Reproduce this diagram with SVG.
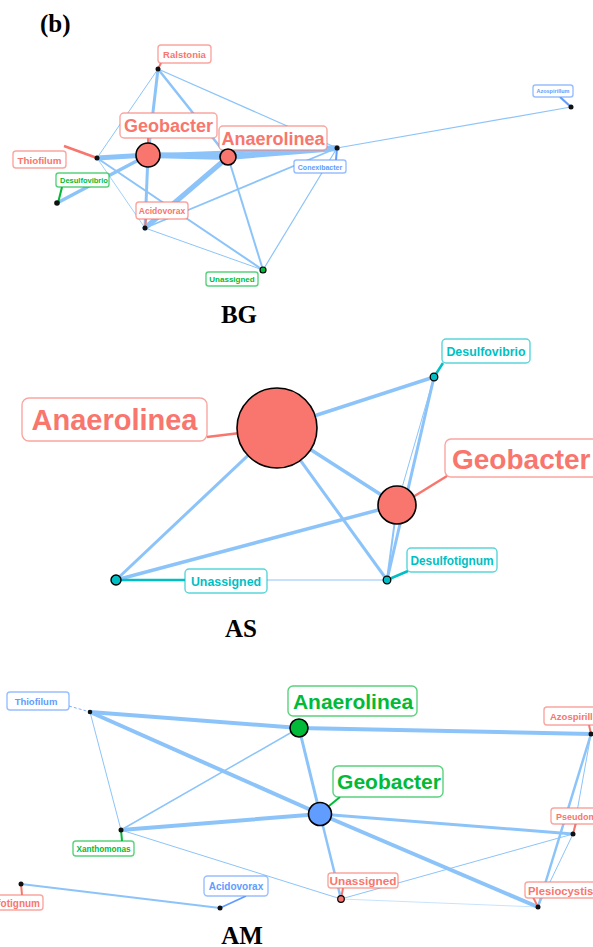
<svg xmlns="http://www.w3.org/2000/svg" width="593" height="947" viewBox="0 0 593 947">
<style>
.e{stroke:#8CC4FA;stroke-linecap:round;fill:none}
.lb{fill:#fff;stroke-width:1.4}
.t{font-family:"Liberation Sans",Arial,sans-serif;font-weight:bold}
.r{fill:#F8766D}.rs{stroke:#F8766D}
.g{fill:#00BA38}.gs{stroke:#00BA38}
.b{fill:#619CFF}.bs{stroke:#619CFF}
.c{fill:#00BFC4}.cs{stroke:#00BFC4}
.box{stroke-opacity:0.65}
.ttl{font-family:"Liberation Serif","Times New Roman",serif;font-weight:bold;font-size:25px;fill:#000}
.dot{fill:#111}
.big{stroke:#000;stroke-width:1.6}
</style>
<rect width="593" height="947" fill="#fff"/>
<text class="ttl" x="40" y="32" font-size="24">(b)</text>

<!-- ============ BG ============ -->
<g id="bg-edges">
<line class="e" x1="148" y1="155" x2="228" y2="157" stroke-width="6"/>
<line class="e" x1="228" y1="157" x2="337" y2="148" stroke-width="6"/>
<line class="e" x1="148" y1="155" x2="337" y2="148" stroke-width="3"/>
<line class="e" x1="97" y1="158" x2="148" y2="155" stroke-width="5"/>
<line class="e" x1="158" y1="69" x2="148" y2="155" stroke-width="3"/>
<line class="e" x1="158" y1="69" x2="97" y2="158" stroke-width="1"/>
<line class="e" x1="158" y1="69" x2="228" y2="157" stroke-width="2.5"/>
<line class="e" x1="158" y1="69" x2="337" y2="148" stroke-width="1.2"/>
<line class="e" x1="337" y1="148" x2="571" y2="107" stroke-width="1.2"/>
<line class="e" x1="337" y1="148" x2="145" y2="228" stroke-width="1.8"/>
<line class="e" x1="337" y1="148" x2="263" y2="270" stroke-width="1.2"/>
<line class="e" x1="228" y1="157" x2="263" y2="270" stroke-width="2"/>
<line class="e" x1="145" y1="228" x2="263" y2="270" stroke-width="1"/>
<line class="e" x1="97" y1="158" x2="263" y2="270" stroke-width="2"/>
<line class="e" x1="97" y1="158" x2="145" y2="228" stroke-width="0.8"/>
<line class="e" x1="57" y1="203" x2="148" y2="155" stroke-width="3.5"/>
<line class="e" x1="228" y1="157" x2="145" y2="228" stroke-width="5"/>
<line class="e" x1="148" y1="155" x2="145" y2="228" stroke-width="3"/>
</g>
<g id="bg-ralstonia">
<line x1="161" y1="63" x2="158" y2="69" class="rs" stroke-width="2"/>
<rect class="lb box rs" x="158" y="45" width="53" height="18" rx="3"/>
<text class="t r" x="184.5" y="58" font-size="9.5" text-anchor="middle">Ralstonia</text>
<circle class="dot" cx="158" cy="69" r="2.5"/>
</g>
<g id="bg-thiofilum">
<line x1="64" y1="146" x2="97" y2="158" class="rs" stroke-width="2.5"/>
<rect class="lb box rs" x="13" y="151" width="53" height="17" rx="3"/>
<text class="t r" x="39.5" y="163.5" font-size="9.8" text-anchor="middle">Thiofilum</text>
<circle class="dot" cx="97" cy="158" r="2.5"/>
</g>
<g id="bg-geobacter">
<line x1="148" y1="138" x2="148" y2="144" class="rs" stroke-width="2"/>
<rect class="lb box rs" x="120" y="113" width="97" height="25" rx="4"/>
<text class="t r" x="168.5" y="132" font-size="18" text-anchor="middle">Geobacter</text>
<circle class="r big" cx="148" cy="155" r="12"/>
</g>
<g id="bg-anaerolinea">
<rect class="lb box rs" x="219" y="126" width="108" height="24" rx="4"/>
<text class="t r" x="273" y="144.5" font-size="18" text-anchor="middle">Anaerolinea</text>
<circle class="r big" cx="228" cy="157" r="8"/>
</g>
<g id="bg-conexibacter">
<line x1="337" y1="148" x2="336" y2="160" class="bs" stroke-width="2"/>
<rect class="lb box bs" x="294" y="160" width="52" height="13" rx="2.5"/>
<text class="t b" x="320" y="169.5" font-size="7" text-anchor="middle">Conexibacter</text>
<circle class="dot" cx="337" cy="148" r="2.5"/>
</g>
<g id="bg-azospirillum">
<line x1="560" y1="97" x2="571" y2="107" class="bs" stroke-width="2.2"/>
<rect class="lb box bs" x="533" y="85" width="40" height="12" rx="2.5"/>
<text class="t b" x="553" y="93.2" font-size="5.5" text-anchor="middle">Azospirillum</text>
<circle class="dot" cx="571" cy="107" r="2.5"/>
</g>
<g id="bg-desulfovibrio">
<line x1="62" y1="187" x2="58" y2="203" class="gs" stroke-width="2"/>
<rect class="lb box gs" x="56" y="173" width="53" height="14" rx="2.5"/>
<text class="t g" x="60" y="183" font-size="7.5">Desulfovibrio</text>
<circle class="dot" cx="57" cy="203" r="2.8"/>
</g>
<g id="bg-acidovorax">
<line x1="146" y1="219" x2="145" y2="228" class="rs" stroke-width="2"/>
<rect class="lb box rs" x="136" y="202" width="52" height="17" rx="3"/>
<text class="t r" x="162" y="213.8" font-size="8.5" text-anchor="middle">Acidovorax</text>
<circle class="dot" cx="145" cy="228" r="2.5"/>
</g>
<g id="bg-unassigned">
<rect class="lb box gs" x="206" y="272" width="52" height="14" rx="2.5"/>
<text class="t g" x="232" y="282" font-size="8" text-anchor="middle">Unassigned</text>
<circle class="g" cx="263" cy="270" r="3" stroke="#000" stroke-width="1.2"/>
</g>
<text class="ttl" x="239" y="323" text-anchor="middle">BG</text>

<!-- ============ AS ============ -->
<g id="as-edges">
<line class="e" x1="277" y1="428" x2="434" y2="377" stroke-width="3.5"/>
<line class="e" x1="277" y1="428" x2="397" y2="505" stroke-width="3.5"/>
<line class="e" x1="277" y1="428" x2="387" y2="580" stroke-width="3"/>
<line class="e" x1="277" y1="428" x2="116" y2="580" stroke-width="3"/>
<line class="e" x1="397" y1="505" x2="116" y2="580" stroke-width="3.5"/>
<line class="e" x1="434" y1="377" x2="387" y2="580" stroke-width="3"/>
<line class="e" x1="434" y1="377" x2="397" y2="505" stroke-width="1"/>
<line class="e" x1="397" y1="505" x2="387" y2="580" stroke-width="2"/>
<line class="e" x1="116" y1="580" x2="387" y2="580" stroke-width="1.2"/>
</g>
<g id="as-anaerolinea">
<line x1="207" y1="437" x2="240" y2="433" class="rs" stroke-width="2.5"/>
<rect class="lb box rs" x="22" y="398" width="185" height="43" rx="7"/>
<text class="t r" x="114.5" y="430" font-size="29" text-anchor="middle">Anaerolinea</text>
<circle class="r big" cx="277" cy="428" r="40"/>
</g>
<g id="as-geobacter">
<line x1="447" y1="476" x2="413" y2="497" class="rs" stroke-width="2.5"/>
<rect class="lb box rs" x="445" y="439" width="155" height="38" rx="6"/>
<text class="t r" x="452" y="469" font-size="28">Geobacter</text>
<circle class="r big" cx="397" cy="505" r="19"/>
</g>
<g id="as-desulfovibrio">
<line x1="443" y1="363" x2="434" y2="377" class="cs" stroke-width="2.5"/>
<rect class="lb box cs" x="442" y="339" width="88" height="24" rx="4"/>
<text class="t c" x="486" y="355.5" font-size="12.4" text-anchor="middle">Desulfovibrio</text>
<circle class="c" cx="434" cy="377" r="3.8" stroke="#000" stroke-width="1.3"/>
</g>
<g id="as-desulfotignum">
<line x1="408" y1="571" x2="387" y2="580" class="cs" stroke-width="2.5"/>
<rect class="lb box cs" x="407" y="548" width="90" height="24" rx="4"/>
<text class="t c" x="452" y="564.5" font-size="11.9" text-anchor="middle">Desulfotignum</text>
<circle class="c" cx="387" cy="580" r="3.8" stroke="#000" stroke-width="1.3"/>
</g>
<g id="as-unassigned">
<line x1="116" y1="580" x2="185" y2="580" class="cs" stroke-width="2.5"/>
<rect class="lb box cs" x="185" y="569" width="82" height="24" rx="4"/>
<text class="t c" x="226" y="585.5" font-size="12.4" text-anchor="middle">Unassigned</text>
<circle class="c" cx="116" cy="580" r="5" stroke="#000" stroke-width="1.4"/>
</g>
<text class="ttl" x="241" y="637" text-anchor="middle">AS</text>

<!-- ============ AM ============ -->
<g id="am-edges">
<line class="e" x1="90" y1="712" x2="299" y2="728" stroke-width="4"/>
<line class="e" x1="90" y1="712" x2="320" y2="814" stroke-width="4"/>
<line class="e" x1="90" y1="712" x2="121" y2="830" stroke-width="1"/>
<line class="e" x1="299" y1="728" x2="591" y2="734" stroke-width="4"/>
<line class="e" x1="299" y1="728" x2="121" y2="830" stroke-width="1.5"/>
<line class="e" x1="299" y1="728" x2="320" y2="814" stroke-width="3"/>
<line class="e" x1="320" y1="814" x2="121" y2="830" stroke-width="4"/>
<line class="e" x1="320" y1="814" x2="573" y2="834" stroke-width="3"/>
<line class="e" x1="320" y1="814" x2="538" y2="907" stroke-width="4"/>
<line class="e" x1="320" y1="814" x2="341" y2="899" stroke-width="2.5"/>
<line class="e" x1="121" y1="830" x2="341" y2="899" stroke-width="1"/>
<line class="e" x1="341" y1="899" x2="573" y2="834" stroke-width="1"/>
<line class="e" x1="341" y1="899" x2="538" y2="907" stroke-width="0.8" stroke-opacity="0.6"/>
<line class="e" x1="591" y1="734" x2="538" y2="907" stroke-width="2.5"/>
<line class="e" x1="591" y1="734" x2="573" y2="834" stroke-width="1"/>
<line class="e" x1="573" y1="834" x2="538" y2="907" stroke-width="1"/>
<line class="e" x1="21" y1="884" x2="220" y2="908" stroke-width="1.8"/>
</g>
<g id="am-thiofilum">
<line x1="69" y1="706" x2="90" y2="712" class="bs" stroke-width="0.8" stroke-dasharray="3,2"/>
<rect class="lb box bs" x="7" y="692" width="62" height="18" rx="3"/>
<text class="t b" x="36" y="704.5" font-size="9.5" text-anchor="middle">Thiofilum</text>
<circle class="dot" cx="90" cy="712" r="2.3"/>
</g>
<g id="am-anaerolinea">
<rect class="lb box gs" x="288" y="686" width="129" height="30" rx="5"/>
<text class="t g" x="353" y="709" font-size="21" text-anchor="middle">Anaerolinea</text>
<circle class="g big" cx="299" cy="728" r="9"/>
</g>
<g id="am-geobacter">
<line x1="340" y1="797" x2="329" y2="806" class="gs" stroke-width="2"/>
<rect class="lb box gs" x="333" y="766" width="110" height="31" rx="5"/>
<text class="t g" x="389" y="789" font-size="21" text-anchor="middle">Geobacter</text>
<circle class="b big" cx="320" cy="814" r="11.5"/>
</g>
<g id="am-azospirillum">
<line x1="589" y1="725" x2="591" y2="734" class="rs" stroke-width="2"/>
<rect class="lb box rs" x="544" y="707" width="60" height="18" rx="3"/>
<text class="t r" x="550" y="719.5" font-size="9.5">Azospirillum</text>
<circle class="dot" cx="591" cy="734" r="2.5"/>
</g>
<g id="am-pseudomonas">
<line x1="576" y1="823" x2="573" y2="834" class="rs" stroke-width="2"/>
<rect class="lb box rs" x="551" y="808" width="60" height="16" rx="3"/>
<text class="t r" x="556" y="819.5" font-size="9">Pseudomonas</text>
<circle class="dot" cx="573" cy="834" r="2.5"/>
</g>
<g id="am-plesiocystis">
<line x1="533" y1="897" x2="538" y2="907" class="rs" stroke-width="2"/>
<rect class="lb box rs" x="525" y="882" width="80" height="16" rx="3"/>
<text class="t r" x="528" y="894.5" font-size="11.3">Plesiocystis</text>
<circle class="dot" cx="538" cy="907" r="2.5"/>
</g>
<g id="am-xanthomonas">
<line x1="122" y1="841" x2="121" y2="830" class="gs" stroke-width="2"/>
<rect class="lb box gs" x="73" y="841" width="61" height="15" rx="3"/>
<text class="t g" x="103.5" y="851.5" font-size="8.2" text-anchor="middle">Xanthomonas</text>
<circle class="dot" cx="121" cy="830" r="2.5"/>
</g>
<g id="am-acidovorax">
<line x1="246" y1="896" x2="220" y2="908" class="bs" stroke-width="1.8"/>
<rect class="lb box bs" x="204" y="876" width="64" height="20" rx="3.5"/>
<text class="t b" x="236" y="889.5" font-size="10" text-anchor="middle">Acidovorax</text>
<circle class="dot" cx="220" cy="908" r="2.5"/>
</g>
<g id="am-unassigned">
<line x1="343" y1="888" x2="341" y2="899" class="rs" stroke-width="2"/>
<rect class="lb box rs" x="328" y="873" width="70" height="15" rx="3"/>
<text class="t r" x="363" y="885" font-size="11.8" text-anchor="middle">Unassigned</text>
<circle class="r" cx="341" cy="899" r="3.3" stroke="#000" stroke-width="1.2"/>
</g>
<g id="am-desulfotignum">
<line x1="22" y1="895" x2="21" y2="884" class="rs" stroke-width="2"/>
<rect class="lb box rs" x="-40" y="895" width="83" height="15" rx="3"/>
<text class="t r" x="40" y="906.5" font-size="10" text-anchor="end">Desulfotignum</text>
<circle class="dot" cx="21" cy="884" r="2.5"/>
</g>
<text class="ttl" x="242" y="944" text-anchor="middle">AM</text>
</svg>
